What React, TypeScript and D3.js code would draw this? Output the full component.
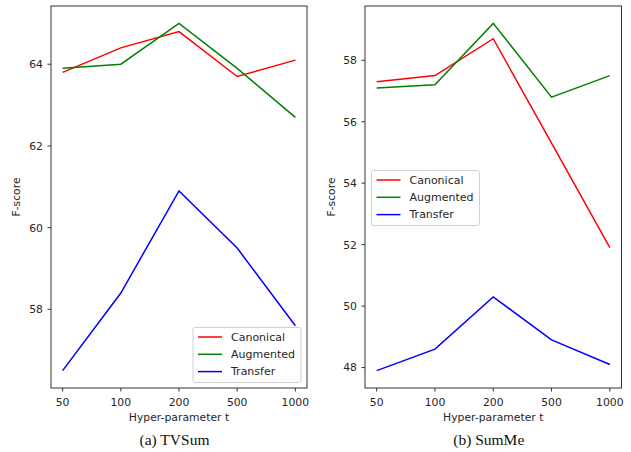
import React from 'react';
import * as d3 from 'd3';

// hyper-parameter values on the x axis (evenly spaced, categorical)
const tValues = ['50', '100', '200', '500', '1000'];

// (a) TVSum
const tvsumCanonical = [63.8, 64.4, 64.8, 63.7, 64.1];
const tvsumAugmented = [63.9, 64.0, 65.0, 63.9, 62.7];
const tvsumTransfer = [56.5, 58.4, 60.9, 59.5, 57.6];
const tvsumTicks = [58, 60, 62, 64];

// (b) SumMe
const summeCanonical = [57.3, 57.5, 58.7, 55.3, 51.9];
const summeAugmented = [57.1, 57.2, 59.2, 56.8, 57.5];
const summeTransfer = [47.9, 48.6, 50.3, 48.9, 48.1];
const summeTicks = [48, 50, 52, 54, 56, 58];

const seriesNames = ['Canonical', 'Augmented', 'Transfer'];
const seriesColors = ['#ff0000', '#008000', '#0000ff'];

const FONT = '"DejaVu Sans", sans-serif';
const TEXT = '#262626';

type PanelProps = {
    left: number;
    right: number;
    series: number[][];
    ticks: number[];
    caption: string;
    ylabelX: number;
    legendX: number;
    legendY: number;
};

function Panel(props: PanelProps) {
    const top = 6;
    const bottom = 388;

    // matplotlib style: 5% margin around the data
    const all = props.series.flat();
    const lo = d3.min(all)!;
    const hi = d3.max(all)!;
    const pad = (hi - lo) * 0.05;

    const x = d3.scaleLinear().domain([-0.2, tValues.length - 1 + 0.2]).range([props.left, props.right]);
    const y = d3.scaleLinear().domain([lo - pad, hi + pad]).range([bottom, top]);

    const line = d3.line<number>()
        .x((d, i) => x(i))
        .y((d) => y(d));

    const midX = (props.left + props.right) / 2;
    const midY = (top + bottom) / 2;

    return (
        <g>
            {/* lines */}
            {props.series.map((s, k) => (
                <path key={k} d={line(s) || ''} fill="none" stroke={seriesColors[k]} strokeWidth={1.5} />
            ))}

            {/* frame */}
            <rect x={props.left} y={top} width={props.right - props.left} height={bottom - top}
                fill="none" stroke="#333" strokeWidth={1} />

            {/* x ticks */}
            {tValues.map((t, i) => (
                <g key={t}>
                    <line x1={x(i)} x2={x(i)} y1={bottom} y2={bottom + 3.5} stroke="#333" />
                    <text x={x(i)} y={405.5} textAnchor="middle" fontFamily={FONT} fontSize={10.8} fill={TEXT}>{t}</text>
                </g>
            ))}

            {/* y ticks */}
            {props.ticks.map((t) => (
                <g key={t}>
                    <line x1={props.left - 3.5} x2={props.left} y1={y(t)} y2={y(t)} stroke="#333" />
                    <text x={props.left - 8} y={y(t) + 3.9} textAnchor="end" fontFamily={FONT} fontSize={10.8} fill={TEXT}>{t}</text>
                </g>
            ))}

            {/* axis labels */}
            <text x={midX} y={421} textAnchor="middle" fontFamily={FONT} fontSize={10.8} fill={TEXT}>Hyper-parameter t</text>
            <text transform={`translate(${props.ylabelX}, ${midY}) rotate(-90)`} textAnchor="middle"
                fontFamily={FONT} fontSize={10.8} fill={TEXT}>F-score</text>

            {/* legend */}
            <g transform={`translate(${props.legendX}, ${props.legendY})`}>
                <rect x={0} y={0} width={108} height={55} rx={2} fill="white" fillOpacity={0.85} stroke="#d0d0d0" />
                {seriesNames.map((n, k) => (
                    <g key={n} transform={`translate(0, ${9.5 + k * 17.3})`}>
                        <line x1={5} x2={29} y1={0} y2={0} stroke={seriesColors[k]} strokeWidth={1.5} />
                        <text x={38} y={3.8} fontFamily={FONT} fontSize={11} fill={TEXT}>{n}</text>
                    </g>
                ))}
            </g>

            {/* caption */}
            <text x={midX - 4.5} y={445} textAnchor="middle" fontFamily='"Liberation Serif", "Times New Roman", serif'
                fontSize={15.5} fill="#111">{props.caption}</text>
        </g>
    );
}

export default function App() {
    return (
        <svg width={631} height={452} style={{position: 'absolute', left: 0, top: 0, background: 'white'}}>
            <rect width={631} height={452} fill="white" />
            <Panel left={51} right={307} series={[tvsumCanonical, tvsumAugmented, tvsumTransfer]}
                ticks={tvsumTicks} caption="(a) TVSum" ylabelX={20} legendX={193} legendY={327.5} />
            <Panel left={365} right={621.5} series={[summeCanonical, summeAugmented, summeTransfer]}
                ticks={summeTicks} caption="(b) SumMe" ylabelX={335} legendX={371.5} legendY={170.5} />
        </svg>
    );
}
